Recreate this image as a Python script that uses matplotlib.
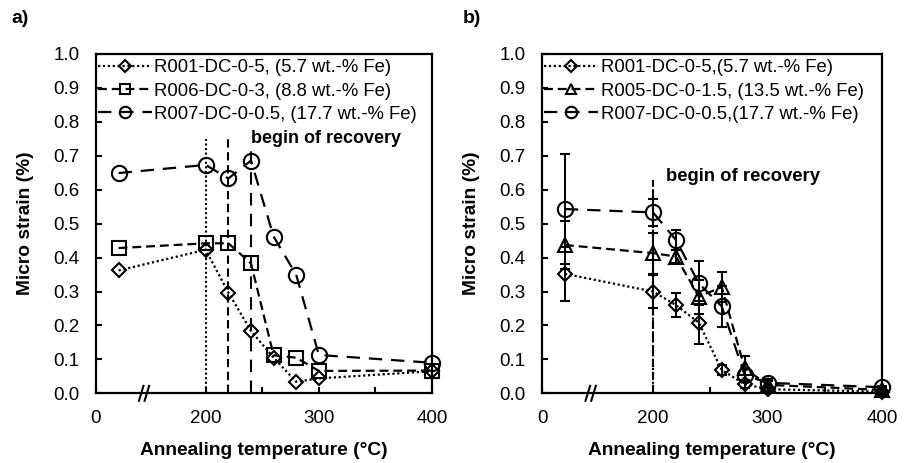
import matplotlib
matplotlib.use("Agg")
import matplotlib.pyplot as plt

plt.rcParams['font.family'] = ['Liberation Sans', 'DejaVu Sans']

# annealing temperatures (°C); 20 = as-cast / room temperature
temps = [20, 200, 220, 240, 260, 280, 300, 400]

# panel a) micro strain (%)
a_r001 = [0.362, 0.423, 0.297, 0.184, 0.105, 0.034, 0.044, 0.065]
a_r006 = [0.428, 0.442, 0.442, 0.383, 0.112, 0.105, 0.066, 0.067]
a_r007 = [0.649, 0.673, 0.633, 0.686, 0.462, 0.349, 0.113, 0.090]
a_labels = ['R001-DC-0-5, (5.7 wt.-% Fe)', 'R006-DC-0-3, (8.8 wt.-% Fe)',
            'R007-DC-0-0.5, (17.7 wt.-% Fe)']
a_recovery = [200, 220, 240]
a_recovery_top = [0.75, 0.75, 0.73]

# panel b) micro strain (%) with errors
b_r001 = [0.352, 0.300, 0.260, 0.208, 0.069, 0.027, 0.012, 0.005]
b_r001_err = [0.080, 0.050, 0.035, 0.063, 0.015, 0.010, 0.005, 0.004]
b_r005 = [0.437, 0.413, 0.403, 0.285, 0.313, 0.074, 0.025, 0.010]
b_r005_err = [0.070, 0.060, 0.020, 0.050, 0.043, 0.035, 0.010, 0.005]
b_r007 = [0.543, 0.533, 0.452, 0.324, 0.256, 0.054, 0.031, 0.018]
b_r007_err = [0.163, 0.040, 0.030, 0.065, 0.060, 0.020, 0.010, 0.005]
b_labels = ['R001-DC-0-5,(5.7 wt.-% Fe)', 'R005-DC-0-1.5, (13.5 wt.-% Fe)',
            'R007-DC-0-0.5,(17.7 wt.-% Fe)']
b_recovery = [200, 200]
b_recovery_top = [0.63, 0.63]

X0 = 103      # axis position of the "0" tick (broken axis)
XBREAK = 146  # where the // is drawn

def pos(t):
    # temperatures below 200 are squeezed into the broken part of the axis
    return [v if v >= 200 else X0 + v for v in t]

styles = {
    'dot': dict(linestyle=(0, (1, 1.2)), marker='D', ms=7.5),
    'dash': dict(linestyle=(0, (4, 2.2)), marker='s', ms=10),
    'tri': dict(linestyle=(0, (4, 2.2)), marker='^', ms=10),
    'long': dict(linestyle=(0, (6, 4)), marker='o', ms=11),
}
common = dict(color='black', lw=1.6, mfc='none', mec='black', mew=1.5,
              clip_on=False)
leg_kw = dict(loc='upper left', bbox_to_anchor=(-0.01, 1.0), frameon=False,
              fontsize=13.3, handlelength=2.9, handletextpad=0.15,
              labelspacing=0.33, borderaxespad=0.1, borderpad=0.2,
              markerscale=0.75)

fig = plt.figure(figsize=(9.07, 4.63), dpi=100)
ax_a = fig.add_axes([0.1058, 0.1505, 0.3705, 0.733])
ax_b = fig.add_axes([0.5976, 0.1505, 0.3748, 0.733])


def setup(ax):
    ax.set_xlim(X0, 400)
    ax.set_ylim(0, 1.0)
    ax.set_xticks([X0, 200, 300, 400])
    ax.set_xticklabels(['0', '200', '300', '400'])
    ax.set_xticks([250, 350], minor=True)
    ax.set_yticks([i / 10 for i in range(11)])
    ax.set_yticklabels(['%.1f' % (i / 10) for i in range(11)])
    ax.tick_params(axis='x', which='both', direction='in', length=4, width=1.5,
                   top=False, labelsize=13.5, pad=12)
    ax.tick_params(axis='y', direction='in', length=4, width=1.5, right=False,
                   labelsize=13.5, pad=12)
    for s in ax.spines.values():
        s.set_linewidth(1.6)
    ax.set_xlabel('Annealing temperature (°C)', fontsize=13.8, fontweight='bold',
                  labelpad=11)
    ax.set_ylabel('Micro strain (%)', fontsize=13.8, fontweight='bold', labelpad=14)
    # axis break marks
    tr = ax.get_xaxis_transform()
    for dx in (-3, 2):
        ax.plot([XBREAK + dx - 2, XBREAK + dx + 2], [-0.022, 0.022], color='black',
                lw=1.5, transform=tr, clip_on=False, zorder=5)


# ---- panel a
setup(ax_a)
x = pos(temps)
ax_a.plot(x, a_r001, label=a_labels[0], **styles['dot'], **common)
ax_a.plot(x, a_r006, label=a_labels[1], **styles['dash'], **common)
ax_a.plot(x, a_r007, label=a_labels[2], **styles['long'], **common)
vstyles = [(0, (1, 1.2)), (0, (4, 2.2)), (0, (6, 4))]
for xv, top, ls in zip(a_recovery, a_recovery_top, vstyles):
    ax_a.plot([xv, xv], [0, top], color='black', lw=1.5, linestyle=ls)
ax_a.text(240, 0.75, 'begin of recovery', fontsize=13, fontweight='bold',
          va='center', ha='left')
ax_a.legend(**leg_kw)

# ---- panel b
setup(ax_b)
err_kw = dict(capsize=3.5, elinewidth=1.4, capthick=1.4, ecolor='black')
eb1 = ax_b.errorbar(x, b_r001, yerr=b_r001_err, **err_kw, **styles['dot'], **common)
eb2 = ax_b.errorbar(x, b_r005, yerr=b_r005_err, **err_kw, **styles['tri'], **common)
eb3 = ax_b.errorbar(x, b_r007, yerr=b_r007_err, **err_kw, **styles['long'], **common)
for xv, top, ls in zip(b_recovery, b_recovery_top, vstyles[:2]):
    ax_b.plot([xv, xv], [0, top], color='black', lw=1.5, linestyle=ls)
ax_b.text(211, 0.64, 'begin of recovery', fontsize=13.3, fontweight='bold',
          va='center', ha='left')
ax_b.legend([eb1.lines[0], eb2.lines[0], eb3.lines[0]], b_labels, **leg_kw)

fig.text(0.013, 0.96, 'a)', fontsize=14, fontweight='bold', va='center')
fig.text(0.51, 0.96, 'b)', fontsize=14, fontweight='bold', va='center')

fig.savefig('out.png', dpi=100)
